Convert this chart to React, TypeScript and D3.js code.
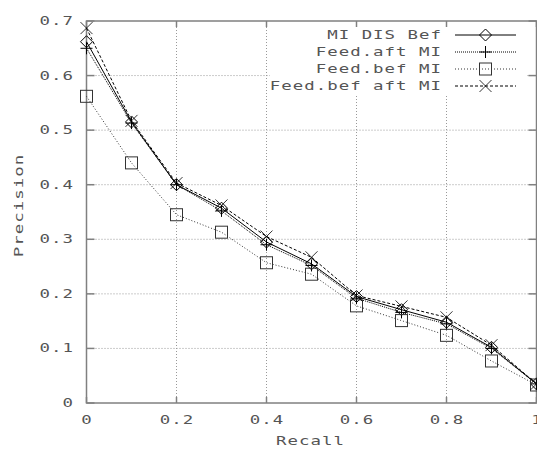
import React from "react";
import * as d3 from "d3";

const recall = [0, 0.1, 0.2, 0.3, 0.4, 0.5, 0.6, 0.7, 0.8, 0.9, 1.0];
const miDisBef = [0.662, 0.515, 0.400, 0.357, 0.295, 0.255, 0.195, 0.171, 0.148, 0.102, 0.035];
const feedAftMi = [0.650, 0.513, 0.400, 0.352, 0.290, 0.252, 0.192, 0.166, 0.145, 0.100, 0.035];
const feedBefMi = [0.562, 0.440, 0.345, 0.313, 0.257, 0.236, 0.178, 0.151, 0.124, 0.077, 0.033];
const feedBefAftMi = [0.687, 0.517, 0.403, 0.362, 0.305, 0.267, 0.197, 0.177, 0.157, 0.106, 0.035];
const seriesNames = ["MI DIS Bef", "Feed.aft MI", "Feed.bef MI", "Feed.bef aft MI"];
const xTicks = [0, 0.2, 0.4, 0.6, 0.8, 1];
const xTickLabels = ["0", "0.2", "0.4", "0.6", "0.8", "1"];
const yTicks = [0, 0.1, 0.2, 0.3, 0.4, 0.5, 0.6, 0.7];
const yTickLabels = ["0", "0.1", "0.2", "0.3", "0.4", "0.5", "0.6", "0.7"];

const W = 537, H = 450;
const x = d3.scaleLinear().domain([0, 1]).range([86.5, 536.5]);
const y = d3.scaleLinear().domain([0, 0.7]).range([403, 21]);

const FONT = "'DejaVu Sans Mono', monospace";
const SX = 1.45;
const LS = 0.7; // unscaled letter spacing
const ADV = (7.22 + LS) * SX; // advance per char in px
const TXT = "#555";
const AX = "#808080";

// Text rendered with horizontal stretch; anchor handled manually
function Label({ text, x: tx, y: ty, anchor, rotate }: { text: string; x: number; y: number; anchor: "start" | "middle" | "end"; rotate?: boolean }) {
  const w = text.length * ADV - LS * SX;
  const off = anchor === "start" ? 0 : anchor === "middle" ? -w / 2 : -w;
  const t = rotate
    ? `translate(${tx},${ty}) rotate(-90) translate(${off},0) scale(${SX},1)`
    : `translate(${tx + off},${ty}) scale(${SX},1)`;
  return (
    <text transform={t} dominantBaseline="central" fontFamily={FONT} fontSize={12} letterSpacing={LS} fill={TXT}>
      {text}
    </text>
  );
}

const styles = [
  { dash: undefined as string | undefined, color: "#000", marker: "diamond" },
  { dash: "1,1", color: "#000", marker: "plus" },
  { dash: "1,2", color: "#333", marker: "square" },
  { dash: "3,2", color: "#000", marker: "cross" },
];
const seriesData = [miDisBef, feedAftMi, feedBefMi, feedBefAftMi];

function Marker({ type, cx, cy }: { type: string; cx: number; cy: number }) {
  const s = 6;
  const common = { fill: "none", stroke: "#000", strokeWidth: 1 };
  if (type === "diamond")
    return <path d={`M${cx},${cy - s}L${cx + s},${cy}L${cx},${cy + s}L${cx - s},${cy}Z`} {...common} />;
  if (type === "plus")
    return <path d={`M${cx - s},${cy}H${cx + s}M${cx},${cy - s}V${cy + s}`} {...common} />;
  if (type === "square")
    return <rect x={cx - s} y={cy - s} width={2 * s} height={2 * s} {...common} stroke="#333" />;
  return <path d={`M${cx - s},${cy - s}L${cx + s},${cy + s}M${cx - s},${cy + s}L${cx + s},${cy - s}`} {...common} strokeWidth={0.8} />;
}

export default function App() {
  const line = d3.line<number>().x((_, i) => x(recall[i])).y((d) => y(d));
  const x0 = x(0), x1 = x(1), y0 = y(0), y1 = y(0.7);
  const legendRows = [35, 52, 69, 86];
  return (
    <svg width={W} height={H} style={{ position: "absolute", left: 0, top: 0, background: "#fff" }}>
      <rect x={0} y={0} width={W} height={H} fill="#fff" />
      {xTicks.slice(1, -1).map((t) => (
        <line key={"gx" + t} x1={x(t)} x2={x(t)} y1={y0} y2={y1} stroke="#999" strokeWidth={1} strokeDasharray="1,2" />
      ))}
      {yTicks.slice(1, -1).map((t) => (
        <line key={"gy" + t} x1={x0} x2={x1} y1={y(t)} y2={y(t)} stroke="#999" strokeWidth={1} strokeDasharray="1,2" />
      ))}
      <rect x={270} y={y1 + 1} width={256} height={72} fill="#fff" />
      {xTicks.map((t, i) => (
        <g key={"tx" + t}>
          <line x1={x(t)} x2={x(t)} y1={y0} y2={y0 - 6} stroke={AX} strokeWidth={1.5} />
          <line x1={x(t)} x2={x(t)} y1={y1} y2={y1 + 6} stroke={AX} strokeWidth={1.5} />
          <Label text={xTickLabels[i]} x={x(t)} y={420} anchor="middle" />
        </g>
      ))}
      {yTicks.map((t, i) => (
        <g key={"ty" + t}>
          <line x1={x0} x2={x0 + 8} y1={y(t)} y2={y(t)} stroke={AX} strokeWidth={1.5} />
          <line x1={x1} x2={x1 - 8} y1={y(t)} y2={y(t)} stroke={AX} strokeWidth={1.5} />
          <Label text={yTickLabels[i]} x={73} y={y(t)} anchor="end" />
        </g>
      ))}
      <rect x={x0} y={y1} width={x1 - x0} height={y0 - y1} fill="none" stroke={AX} strokeWidth={1.5} />
      {seriesData.map((data, si) => (
        <g key={"s" + si}>
          <path d={line(data) || ""} fill="none" stroke={styles[si].color} strokeWidth={1} strokeDasharray={styles[si].dash} />
          {data.map((v, i) => (
            <Marker key={i} type={styles[si].marker} cx={x(recall[i])} cy={y(v)} />
          ))}
        </g>
      ))}
      {seriesNames.map((name, si) => (
        <g key={"l" + si}>
          <Label text={name} x={441} y={legendRows[si]} anchor="end" />
          <line x1={455} x2={516} y1={legendRows[si]} y2={legendRows[si]} stroke={styles[si].color} strokeWidth={1} strokeDasharray={styles[si].dash} />
          <Marker type={styles[si].marker} cx={485.5} cy={legendRows[si]} />
        </g>
      ))}
      <Label text="Recall" x={310} y={441} anchor="middle" />
      <Label text="Precision" x={19} y={206} anchor="middle" rotate />
    </svg>
  );
}
